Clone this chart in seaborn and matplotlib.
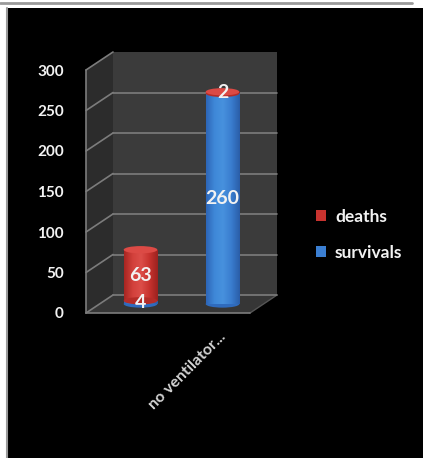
import numpy as np
import matplotlib
matplotlib.use("Agg")
import matplotlib.pyplot as plt
import matplotlib.transforms as mtransforms
from matplotlib.patches import Rectangle, Ellipse, Polygon, Patch
from matplotlib.colors import LinearSegmentedColormap
import seaborn as sns

# data
categories = ["", "no ventilator..."]
survivals = [4, 260]
deaths = [63, 2]
series_names = ["deaths", "survivals"]
y_ticks = [0, 50, 100, 150, 200, 250, 300]

RED = "#c8332f"
RED_TOP = "#dc4a45"
BLUE = "#3b7fd2"
GRID = "#7c7c7c"
WHITE = "#f2f2f2"

sns.set_theme(style="white")
plt.rcParams["font.family"] = ["Lato", "DejaVu Sans"]

W, H = 423, 458
fig = plt.figure(figsize=(W / 100, H / 100), dpi=100, facecolor="white")

# framed black background like the screenshot
fig.patches.append(Rectangle((8 / W, 0), 1, (H - 8) / H, transform=fig.transFigure,
                             facecolor="black", edgecolor="none", zorder=-10))
fig.lines.append(plt.Line2D([0, 412 / W], [1 - 2.5 / H] * 2, transform=fig.transFigure,
                            color="#9a9a9a", lw=2, zorder=-9))
fig.lines.append(plt.Line2D([6.5 / W] * 2, [0, 1 - 8 / H], transform=fig.transFigure,
                            color="#9a9a9a", lw=1.5, zorder=-9))

# front plane of the 3d box
x0, x1, yb, yt = 86, 250, 313, 70
ax = fig.add_axes([x0 / W, (H - yb) / H, (x1 - x0) / W, (yb - yt) / H])
ax.set_facecolor("none")
for s in ax.spines.values():
    s.set_visible(False)

# stacked bars: total in red, survivals in blue on top of it
totals = [s + d for s, d in zip(survivals, deaths)]
bw = 0.41
sns.barplot(x=categories, y=totals, color=RED, width=bw, ax=ax, saturation=1, zorder=3)
sns.barplot(x=categories, y=survivals, color=BLUE, width=bw, ax=ax, saturation=1, zorder=3)
ax.set_xlim(-0.5, 1.5)
ax.set_ylim(0, 300)
ax.set_xlabel("")
ax.set_ylabel("")

DX, DY = 27, 18  # depth offset in pixels
fig.canvas.draw()


def shift(frac):
    return mtransforms.ScaledTranslation(DX * frac / 100, DY * frac / 100, fig.dpi_scale_trans)


def to_fig(xd, yd, frac):
    p = ax.transData.transform((xd, yd)) + np.array([DX * frac, DY * frac])
    return fig.transFigure.inverted().transform(p)


back = ax.transData + shift(1)
mid = ax.transData + shift(0.5)

# walls and floor (drawn behind the axes)
back_wall = Polygon([to_fig(-0.5, 0, 1), to_fig(1.5, 0, 1), to_fig(1.5, 300, 1), to_fig(-0.5, 300, 1)],
                    closed=True, transform=fig.transFigure, facecolor="#3b3b3b", edgecolor="none", zorder=-5)
side_wall = Polygon([to_fig(-0.5, 0, 0), to_fig(-0.5, 0, 1), to_fig(-0.5, 300, 1), to_fig(-0.5, 300, 0)],
                    closed=True, transform=fig.transFigure, facecolor="#2c2c2c", edgecolor="none", zorder=-5)
floor = Polygon([to_fig(-0.5, 0, 0), to_fig(1.5, 0, 0), to_fig(1.5, 0, 1), to_fig(-0.5, 0, 1)],
                closed=True, transform=fig.transFigure, facecolor="#363636", edgecolor="none", zorder=-5)
for p in (back_wall, side_wall, floor):
    fig.patches.append(p)

for v in y_ticks:
    a, b = to_fig(-0.5, v, 0), to_fig(-0.5, v, 1)
    fig.lines.append(plt.Line2D([a[0], b[0]], [a[1], b[1]], transform=fig.transFigure,
                                color=GRID, lw=1.2, zorder=-4))
a, b = to_fig(1.5, 0, 0), to_fig(1.5, 0, 1)
fig.lines.append(plt.Line2D([a[0], b[0]], [a[1], b[1]], transform=fig.transFigure,
                            color="#555555", lw=1, zorder=-4))

for v in y_ticks[:-1]:
    ax.plot([-0.5, 1.5], [v, v], color=GRID, lw=1.2, transform=back, clip_on=False, zorder=1)
ax.plot([-0.5, 1.5], [0, 0], color=GRID, lw=1.2, clip_on=False, zorder=2)
ax.plot([-0.5, -0.5], [0, 300], color=GRID, lw=1.2, clip_on=False, zorder=2)

# cylinders
red_cmap = LinearSegmentedColormap.from_list("r", ["#a82622", "#d2403b", "#dc4e49", "#c8332f", "#9c221f"])
blue_cmap = LinearSegmentedColormap.from_list("b", ["#2d66b8", "#3f88d8", "#4791de", "#3a7dcf", "#2a5ea8"])
grad = np.linspace(0, 1, 64).reshape(1, -1)
eh = 9  # ellipse height in data units
n = len(categories)
for i, p in enumerate(list(ax.patches)):
    p.set_transform(mid)
    p.set_clip_on(False)
    p.set_edgecolor("none")
    bx, by = p.get_x(), p.get_y()
    w, h = p.get_width(), p.get_height()
    is_red = i < n
    cmap = red_cmap if is_red else blue_cmap
    im = ax.imshow(grad, cmap=cmap, aspect="auto", extent=(bx, bx + w, by, by + h),
                   transform=mid, zorder=3.5 if is_red else 4.5)
    im.set_clip_path(p)
    if is_red:
        base = survivals[i]
        ax.add_patch(Ellipse((bx + w / 2, base), w, eh, facecolor="#b52c28", edgecolor="none",
                             transform=mid, zorder=5, clip_on=False))
        ax.add_patch(Ellipse((bx + w / 2, by + h), w, eh, facecolor=RED_TOP, edgecolor="none",
                             transform=mid, zorder=6, clip_on=False))
    else:
        ax.add_patch(Ellipse((bx + w / 2, 0), w, eh, facecolor="#2f6bbd", edgecolor="none",
                             transform=mid, zorder=2.9, clip_on=False))
        p.set_zorder(4.4)

ax.set_xlim(-0.5, 1.5)
ax.set_ylim(0, 300)

# value labels
for i in range(n):
    ax.text(i, survivals[i] / 2, str(survivals[i]), transform=mid, ha="center", va="center",
            color=WHITE, fontsize=14, fontweight="bold", zorder=8)
    ax.text(i, survivals[i] + deaths[i] / 2, str(deaths[i]), transform=mid, ha="center", va="center",
            color=WHITE, fontsize=14, fontweight="bold", zorder=8)

# axes ticks
ax.set_yticks(y_ticks)
ax.set_yticklabels([str(v) for v in y_ticks])
ax.tick_params(axis="y", colors=GRID, labelcolor=WHITE, length=4, width=1.2, pad=12, labelsize=11)
for t in ax.get_yticklabels():
    t.set_fontweight("bold")
ax.set_xticks([0, 1])
ax.set_xticklabels(categories)
ax.set_xticks([-0.5, 0.5, 1.5], minor=True)
ax.tick_params(axis="x", which="major", length=0, labelcolor="#d4d4d4", labelsize=11.5, pad=2)
ax.tick_params(axis="x", which="minor", length=5, width=1.2, colors=GRID)
lbl_shift = mtransforms.ScaledTranslation(10 / 100, -14 / 100, fig.dpi_scale_trans)
for t in ax.get_xticklabels():
    t.set_rotation(45)
    t.set_ha("right")
    t.set_rotation_mode("anchor")
    t.set_fontweight("bold")
    t.set_transform(t.get_transform() + lbl_shift)

# legend
handles = [Patch(facecolor=RED, edgecolor="none"), Patch(facecolor=BLUE, edgecolor="none")]
leg = fig.legend(handles, series_names, loc="center left", bbox_to_anchor=(316 / W, 1 - 235 / H),
                 frameon=False, fontsize=12.5, labelcolor=WHITE, handlelength=0.6, handleheight=0.6,
                 handletextpad=0.5, labelspacing=1.15, borderpad=0, borderaxespad=0)
for t in leg.get_texts():
    t.set_fontweight("bold")

fig.savefig("out.png", dpi=100, facecolor=fig.get_facecolor())
